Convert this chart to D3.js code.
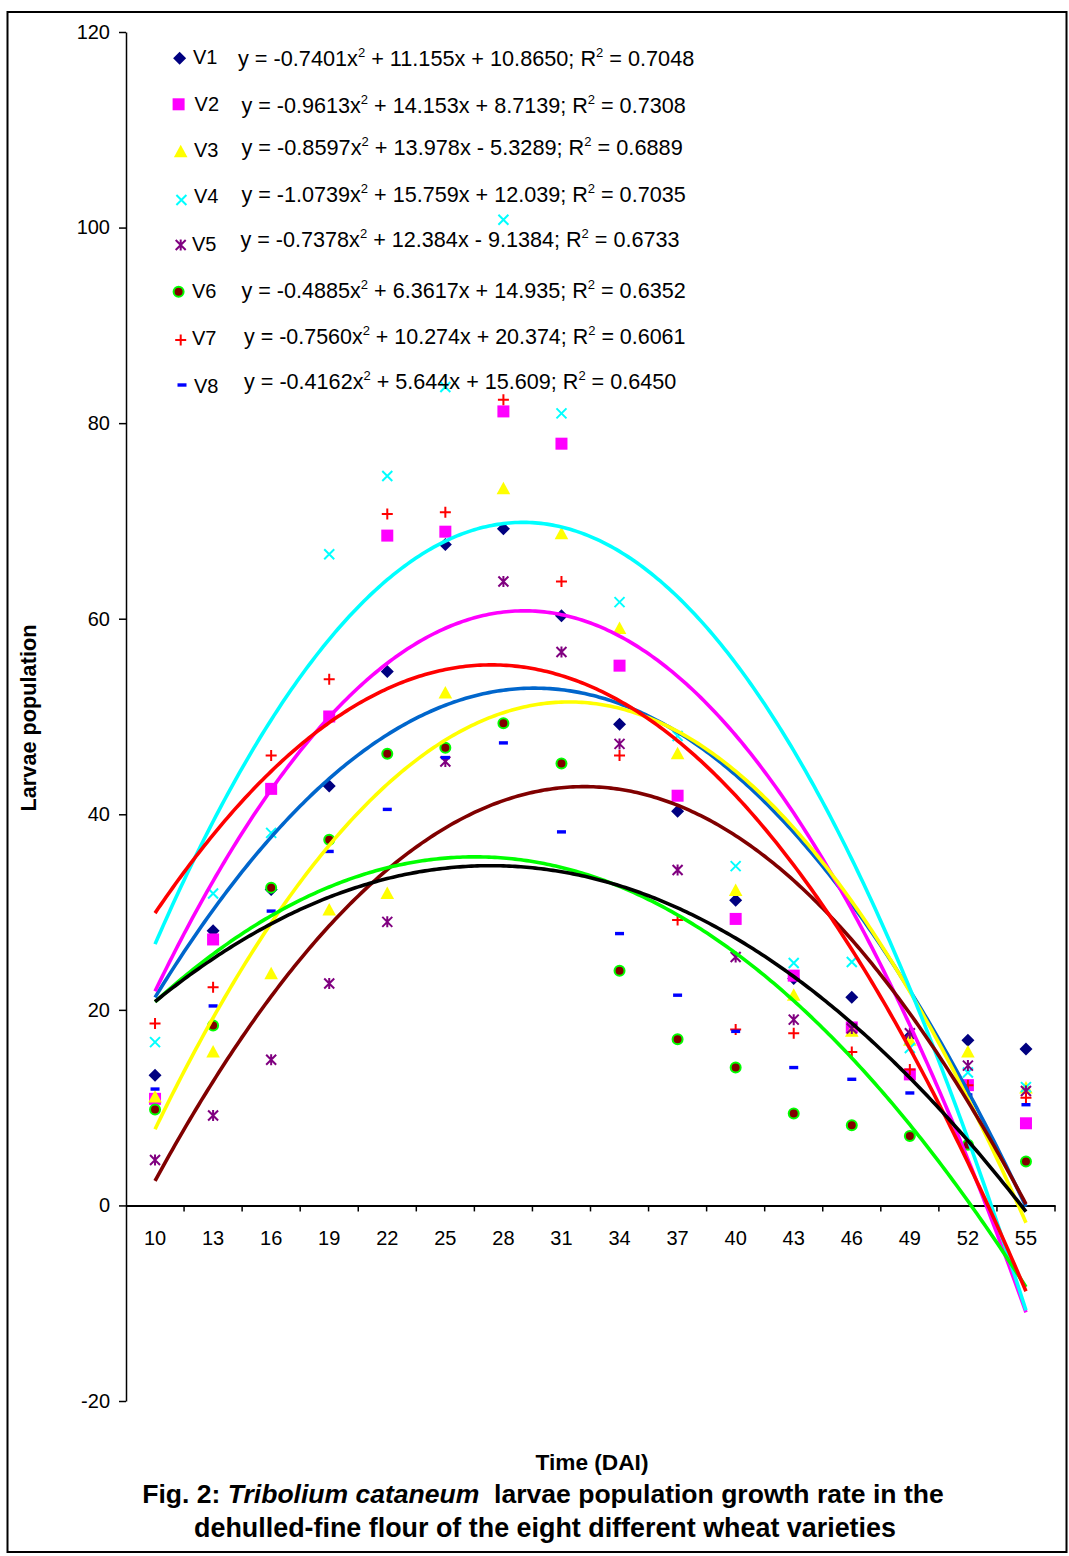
<!DOCTYPE html>
<html>
<head>
<meta charset="utf-8">
<script src="https://cdn.jsdelivr.net/npm/d3@7"></script>
<style>
  html, body { margin: 0; padding: 0; background: #fff; }
  svg { display: block; font-family: "Liberation Sans", Arial, sans-serif; }
</style>
</head>
<body>
<svg id="chart" width="1069" height="1556"></svg>
<script>
// ---------------- DATA ----------------
const categories = [10, 13, 16, 19, 22, 25, 28, 31, 34, 37, 40, 43, 46, 49, 52, 55];
const seriesNames = ["V1", "V2", "V3", "V4", "V5", "V6", "V7", "V8"];
const yTicks = [-20, 0, 20, 40, 60, 80, 100, 120];

const v1 = [13.3, 28.1, 32.3, 42.9, 54.6, 67.6, 69.2, 60.3, 49.2, 40.3, 31.2, 23.2, 21.3, 17.3, 16.9, 16.0];
const v2 = [10.9, 27.2, 42.6, 50.0, 68.5, 68.9, 81.2, 77.9, 55.2, 41.9, 29.3, 23.5, 18.2, 13.4, 12.3, 8.4];
const v3 = [11.1, 15.7, 23.7, 30.2, 31.9, 52.4, 73.3, 68.7, 59.0, 46.2, 32.2, 21.5, 17.8, 16.9, 15.7, 12.0];
const v4 = [16.7, 31.9, 38.1, 66.6, 74.6, 83.7, 100.8, 81.0, 61.7, 48.0, 34.7, 24.8, 24.9, 16.1, 13.6, 12.1];
const v5 = [4.65, 9.2, 14.9, 22.7, 29.0, 45.4, 63.8, 56.6, 47.2, 34.3, 25.4, 19.0, 18.1, 17.6, 14.3, 11.7];
const v6 = [9.8, 18.4, 32.5, 37.4, 46.2, 46.8, 49.3, 45.2, 24.0, 17.0, 14.1, 9.4, 8.2, 7.1, 6.2, 4.5];
const v7 = [18.6, 22.3, 46.0, 53.8, 70.7, 70.9, 82.4, 63.8, 46.0, 29.2, 18.0, 17.6, 15.7, 13.9, 12.3, 11.0];
const v8 = [11.9, 20.4, 30.1, 36.2, 40.5, 45.8, 47.3, 38.2, 27.8, 21.5, 17.8, 14.1, 12.9, 11.5, 11.3, 10.3];
const seriesValues = [v1, v2, v3, v4, v5, v6, v7, v8];

// polynomial trendline coefficients as printed on the chart (y = a x^2 + b x + c, x = point index)
const coefA = ["-0.7401", "-0.9613", "-0.8597", "-1.0739", "-0.7378", "-0.4885", "-0.7560", "-0.4162"];
const coefB = ["11.155", "14.153", "13.978", "15.759", "12.384", "6.3617", "10.274", "5.644"];
const coefC = ["10.8650", "8.7139", "-5.3289", "12.039", "-9.1384", "14.935", "20.374", "15.609"];
const rSquared = ["0.7048", "0.7308", "0.6889", "0.7035", "0.6733", "0.6352", "0.6061", "0.6450"];

const yAxisTitle = "Larvae population";
const xAxisTitle = "Time (DAI)";

// ---------------- STYLE / LAYOUT ----------------
const markerShapes = ["diamond", "square", "triangle", "x", "star", "circle", "plus", "dash"];
const markerColors = ["#000080", "#FF00FF", "#FFFF00", "#00FFFF", "#800080", "#800000", "#FF0000", "#0000FF"];
const trendColors = ["#0066CC", "#FF00FF", "#FFFF00", "#00FFFF", "#800000", "#00FF00", "#FF0000", "#000000"];

const legendMarkerX = [179.6, 178.6, 180.7, 181.4, 180.7, 178.6, 180.7, 182];
const legendMarkerY = [58.3, 104.3, 151.7, 200, 245, 291.7, 340, 385];
const legendLabelX = [193, 194.6, 194, 194, 192, 192, 192, 194];
const legendLabelBase = [64, 110.7, 156.7, 203.3, 250.7, 298.3, 345, 392.7];
const legendEqX = [238, 241.4, 241.4, 241.4, 240.4, 241.4, 244, 244];
const legendEqBase = [65.5, 113, 155, 201.7, 246.7, 298, 344, 388.5];
const legendEqWidth = [457, 445, 442, 445, 440, 445, 442, 433];

const plot = { left: 126, right: 1055, top: 32, bottom: 1401 };
const FONT = '"Liberation Sans", Arial, sans-serif';

const svg = d3.select("#chart");

// frame
svg.append("rect")
  .attr("x", 7.5).attr("y", 12).attr("width", 1059).attr("height", 1540)
  .attr("fill", "none").attr("stroke", "#000").attr("stroke-width", 2);

// scales
const x = d3.scaleBand().domain(categories).range([plot.left, plot.right]).padding(0);
const y = d3.scaleLinear().domain([-20, 120]).range([plot.bottom, plot.top]);
const xIdx = d3.scaleLinear()
  .domain([1, categories.length])
  .range([x(categories[0]) + x.bandwidth() / 2, x(categories[categories.length - 1]) + x.bandwidth() / 2]);

// y axis
const yAxisG = svg.append("g")
  .attr("transform", `translate(${plot.left},0)`)
  .call(d3.axisLeft(y).tickValues(yTicks).tickFormat(d => String(d)).tickSize(7).tickPadding(9).tickSizeOuter(0));
yAxisG.select(".domain").attr("stroke", "#000").attr("stroke-width", 1.5);
yAxisG.selectAll(".tick line").attr("stroke", "#000").attr("stroke-width", 1.5);
yAxisG.selectAll("text").attr("font-size", 20).attr("font-family", FONT).attr("fill", "#000");

// x axis at y = 0
const y0 = y(0);
const xAxisG = svg.append("g")
  .attr("transform", `translate(0,${y0})`)
  .call(d3.axisBottom(x).tickSize(0).tickPadding(25).tickSizeOuter(0));
xAxisG.select(".domain").attr("stroke", "#000").attr("stroke-width", 2);
xAxisG.selectAll("text").attr("font-size", 20).attr("font-family", FONT).attr("fill", "#000");
// category boundary tick marks
xAxisG.selectAll(".bt").data(categories).enter().append("line")
  .attr("class", "bt")
  .attr("x1", d => x(d) + x.bandwidth()).attr("x2", d => x(d) + x.bandwidth())
  .attr("y1", 0).attr("y2", 6)
  .attr("stroke", "#000").attr("stroke-width", 1.5);

// marker drawing
function drawMarker(g, shape, color) {
  switch (shape) {
    case "diamond":
      g.append("path").attr("d", "M0,-6.5L6.5,0L0,6.5L-6.5,0Z").attr("fill", color); break;
    case "square":
      g.append("rect").attr("x", -6).attr("y", -6).attr("width", 12).attr("height", 12).attr("fill", color); break;
    case "triangle":
      g.append("path").attr("d", "M0,-7L6.8,5.5L-6.8,5.5Z").attr("fill", color); break;
    case "x":
      g.append("path").attr("d", "M-5,-5L5,5M-5,5L5,-5").attr("stroke", color).attr("stroke-width", 2).attr("fill", "none"); break;
    case "star":
      g.append("path").attr("d", "M-5,-5L5,5M-5,5L5,-5M0,-5.5L0,5.5").attr("stroke", color).attr("stroke-width", 2).attr("fill", "none"); break;
    case "circle":
      g.append("circle").attr("r", 5).attr("fill", color).attr("stroke", "#00FF00").attr("stroke-width", 2); break;
    case "plus":
      g.append("path").attr("d", "M-5.5,0L5.5,0M0,-5.5L0,5.5").attr("stroke", color).attr("stroke-width", 2).attr("fill", "none"); break;
    case "dash":
      g.append("rect").attr("x", -4.5).attr("y", -1.7).attr("width", 9).attr("height", 3.4).attr("fill", color); break;
  }
}

// points
const pointsG = svg.append("g");
seriesValues.forEach((vals, si) => {
  const sg = pointsG.append("g");
  vals.forEach((v, i) => {
    const g = sg.append("g").attr("transform", `translate(${x(categories[i]) + x.bandwidth() / 2},${y(v)})`);
    drawMarker(g, markerShapes[si], markerColors[si]);
  });
});

// trendlines
const line = d3.line().x(d => xIdx(d[0])).y(d => y(d[1])).curve(d3.curveLinear);
seriesNames.forEach((name, si) => {
  const a = +coefA[si], b = +coefB[si], c = +coefC[si];
  const pts = d3.range(1, categories.length + 0.0001, 0.05).map(t => [t, a * t * t + b * t + c]);
  svg.append("path")
    .attr("d", line(pts))
    .attr("fill", "none")
    .attr("stroke", trendColors[si])
    .attr("stroke-width", 3.6)
    .attr("stroke-linejoin", "round");
});

function fitWidth(sel, target) {
  const w = sel.node().getBBox().width;
  const fs = +sel.attr("font-size");
  sel.attr("font-size", fs * target / w);
}

// legend
const legendG = svg.append("g");
seriesNames.forEach((name, si) => {
  const mg = legendG.append("g").attr("transform", `translate(${legendMarkerX[si]},${legendMarkerY[si]})`);
  drawMarker(mg, markerShapes[si], markerColors[si]);
  legendG.append("text")
    .attr("x", legendLabelX[si]).attr("y", legendLabelBase[si])
    .attr("font-size", 20).attr("font-family", FONT).text(name);
  const c = coefC[si];
  const cPart = c.startsWith("-") ? " - " + c.slice(1) : " + " + c;
  const t = legendG.append("text")
    .attr("x", legendEqX[si]).attr("y", legendEqBase[si])
    .attr("font-size", 21).attr("font-family", FONT).attr("xml:space", "preserve");
  t.append("tspan").text(`y = ${coefA[si]}x`);
  t.append("tspan").attr("font-size", 13).attr("dy", -9).text("2");
  t.append("tspan").attr("dy", 9).text(` + ${coefB[si]}x${cPart}; R`);
  t.append("tspan").attr("font-size", 13).attr("dy", -9).text("2");
  t.append("tspan").attr("dy", 9).text(` = ${rSquared[si]}`);
  fitWidth(t, legendEqWidth[si]);
});

// axis titles
const yt = svg.append("text")
  .attr("transform", "translate(36,718) rotate(-90)")
  .attr("text-anchor", "middle")
  .attr("font-size", 20).attr("font-weight", "bold").attr("font-family", FONT)
  .text(yAxisTitle);
fitWidth(yt, 187);

const xt = svg.append("text")
  .attr("x", 592).attr("y", 1470)
  .attr("text-anchor", "middle")
  .attr("font-size", 20).attr("font-weight", "bold").attr("font-family", FONT)
  .text(xAxisTitle);
fitWidth(xt, 113);

// caption
const cap1 = svg.append("text")
  .attr("x", 543).attr("y", 1503).attr("text-anchor", "middle")
  .attr("font-size", 24).attr("font-weight", "bold").attr("font-family", FONT)
  .attr("xml:space", "preserve");
cap1.append("tspan").text("Fig. 2: ");
cap1.append("tspan").attr("font-style", "italic").text("Tribolium cataneum");
cap1.append("tspan").text("  larvae population growth rate in the");
fitWidth(cap1, 802);

const cap2 = svg.append("text")
  .attr("x", 545).attr("y", 1537).attr("text-anchor", "middle")
  .attr("font-size", 24).attr("font-weight", "bold").attr("font-family", FONT)
  .text("dehulled-fine flour of the eight different wheat varieties");
fitWidth(cap2, 702);
</script>
</body>
</html>
